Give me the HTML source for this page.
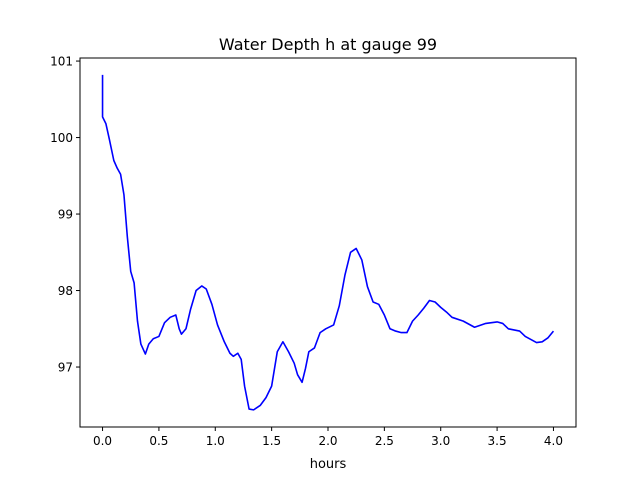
<!DOCTYPE html>
<html><head><meta charset="utf-8"><style>
body{margin:0;background:#fff}
svg{display:block;font-family:"DejaVu Sans","Liberation Sans",sans-serif}
</style></head><body>
<svg id="chart" width="640" height="480">
<rect width="640" height="480" fill="#fff"/>
<text x="328" y="50" font-size="16" text-anchor="middle">Water Depth h at gauge 99</text>
<g id="axes"></g>
<text x="328" y="468" font-size="13" text-anchor="middle">hours</text>
</svg>
<script>
const hours=[0,0,0.03,0.06,0.1,0.13,0.16,0.19,0.22,0.25,0.28,0.31,0.34,0.38,0.41,0.45,0.5,0.55,0.6,0.65,0.68,0.7,0.74,0.78,0.83,0.88,0.92,0.97,1.02,1.08,1.13,1.16,1.2,1.23,1.26,1.3,1.34,1.4,1.45,1.5,1.55,1.6,1.65,1.7,1.73,1.77,1.8,1.83,1.88,1.93,1.98,2.05,2.1,2.15,2.2,2.25,2.3,2.35,2.4,2.45,2.5,2.55,2.6,2.65,2.7,2.75,2.8,2.85,2.9,2.95,3.0,3.05,3.1,3.2,3.3,3.4,3.5,3.55,3.6,3.7,3.75,3.85,3.9,3.95,4.0];
const depth=[100.82,100.27,100.18,99.98,99.7,99.6,99.52,99.25,98.7,98.25,98.1,97.6,97.3,97.17,97.3,97.37,97.4,97.58,97.65,97.68,97.5,97.43,97.5,97.75,98.0,98.06,98.02,97.82,97.55,97.33,97.18,97.14,97.18,97.1,96.75,96.45,96.44,96.5,96.6,96.75,97.2,97.33,97.2,97.05,96.9,96.8,96.98,97.2,97.25,97.45,97.5,97.55,97.8,98.2,98.5,98.55,98.4,98.05,97.85,97.82,97.68,97.5,97.47,97.45,97.45,97.6,97.68,97.77,97.87,97.85,97.78,97.72,97.65,97.6,97.52,97.57,97.59,97.57,97.5,97.47,97.4,97.32,97.33,97.38,97.47];
const xTicks=[0.0,0.5,1.0,1.5,2.0,2.5,3.0,3.5,4.0];
const xTickLabels=["0.0","0.5","1.0","1.5","2.0","2.5","3.0","3.5","4.0"];
const yTicks=[97,98,99,100,101];
const yTickLabels=["97","98","99","100","101"];
const L=80,R=576,T=58,B=427,x0=-0.2,x1=4.2,y0=96.216,y1=101.04;
const sx=v=>L+(v-x0)/(x1-x0)*(R-L);
const sy=v=>B-(v-y0)/(y1-y0)*(B-T);
const NS="http://www.w3.org/2000/svg";
const g=document.getElementById('axes');
function mk(t,a){const e=document.createElementNS(NS,t);for(const k in a)e.setAttribute(k,a[k]);g.appendChild(e);return e;}
xTicks.forEach((v,i)=>{
 const t=mk('line',{x1:sx(v),x2:sx(v),y1:B,y2:B+4,stroke:'#000','stroke-width':1});
 
 
 const l=mk('text',{x:sx(v),y:B+18,'font-size':12,'text-anchor':'middle'});l.textContent=xTickLabels[i];
 
 
});
yTicks.forEach((v,i)=>{
 const t=mk('line',{x1:L-4,x2:L,y1:sy(v),y2:sy(v),stroke:'#000','stroke-width':1});
 
 
 const l=mk('text',{x:L-7,y:sy(v)+4.5,'font-size':12,'text-anchor':'end'});l.textContent=yTickLabels[i];
 
 
});
const p=mk('polyline',{points:hours.map((h,i)=>sx(h)+','+sy(depth[i])).join(' '),fill:'none',stroke:'#0000ff','stroke-width':1.6,'stroke-linejoin':'round'});


const f=mk('rect',{x:L,y:T,width:R-L,height:B-T,fill:'none',stroke:'#000','stroke-width':1});


</script>
</body></html>
